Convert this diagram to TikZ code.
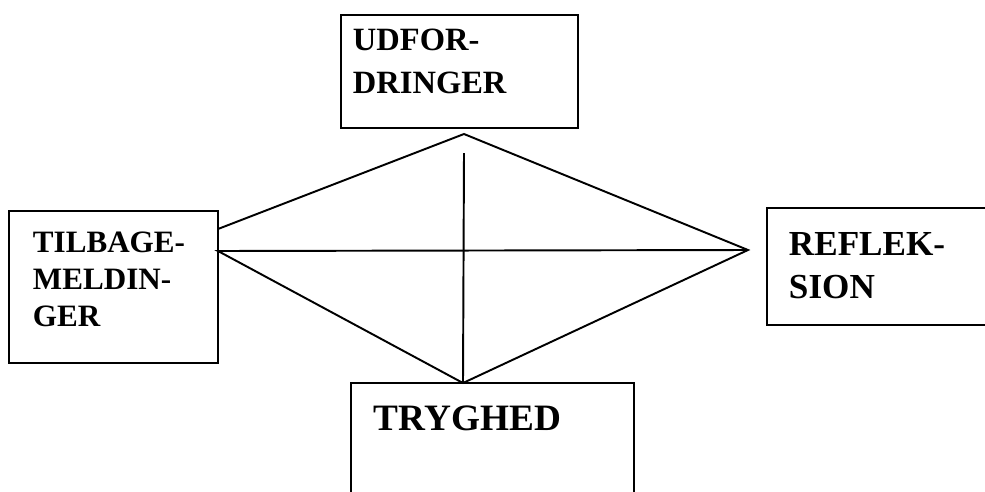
\documentclass[tikz,border=0pt]{standalone}
\usepackage{fontspec}
\setmainfont{Liberation Serif}

\begin{document}
\begin{tikzpicture}[x=0.02cm,y=-0.02cm,line width=1.1pt]
\tikzset{boks/.style={draw,inner sep=0pt},
  ord/.style={anchor=north west,inner sep=0pt,align=left}}
\useasboundingbox (0,0) rectangle (985,491);
\clip (0,0) rectangle (985,491);
\node[boks,minimum width=4.74cm,minimum height=2.26cm] (udf) at (459.5,71.5) {};
\node[boks,minimum width=4.18cm,minimum height=3.04cm] (tilb) at (113.5,287) {};
\node[boks,minimum width=4.66cm,minimum height=2.34cm] (refl) at (883.5,266.5) {};
\node[boks,minimum width=5.66cm,minimum height=2.74cm] (tryg) at (492.5,451.5) {};
\node[ord,font=\bfseries\fontsize{18.5}{24.4}\selectfont] (udftxt) at (352,28) {UDFOR-\\DRINGER};
\node[ord,font=\bfseries\fontsize{17.7}{21}\selectfont] (tilbtxt) at (32,231) {TILBAGE-\\MELDIN-\\GER};
\node[ord,font=\bfseries\fontsize{20}{24.4}\selectfont] (refltxt) at (788,232) {REFLEK-\\SION};
\node[ord,font=\bfseries\fontsize{21.2}{25}\selectfont] (trygtxt) at (373,405) {TRYGHED};
\coordinate (nord) at (464,134);
\coordinate (midt) at (464,153);
\coordinate (vest1) at (218,229);
\coordinate (vest2) at (218,251);
\coordinate (oest) at (748,250);
\coordinate (syd) at (463,383);
\draw (vest1) -- (nord) -- (oest) -- (syd) -- (vest2) -- (oest);
\draw (midt) -- (syd);
\end{tikzpicture}
\end{document}
